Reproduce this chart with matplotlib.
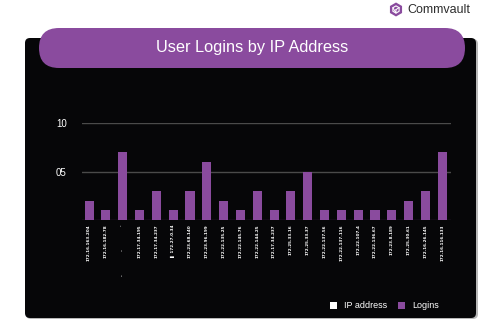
import matplotlib
matplotlib.use("Agg")
import matplotlib.pyplot as plt
from matplotlib.patches import FancyBboxPatch, Rectangle, RegularPolygon
import numpy as np

plt.rcParams['font.family'] = ['Liberation Sans', 'DejaVu Sans']

ip_labels = [
    "172.16.163.204", "172.16.182.78", "-" + " " * 17 + "-" + " " * 17 + "'",
    "172.17.34.195", "172.17.34.237", "\u258c 172.27.0.34", "172.23.68.140",
    "172.23.96.199", "172.22.135.25", "172.22.145.76", "172.22.144.25",
    "172.17.34.237", "172.25.33.16", "172.25.33.37", "172.22.137.56",
    "172.22.137.116", "172.22.107.4", "172.22.136.67", "172.23.8.189",
    "172.25.30.61", "172.16.26.145", "172.16.116.133",
]
logins = [2, 1, 7, 1, 3, 1, 3, 6, 2, 1, 3, 1, 3, 5, 1, 1, 1, 1, 1, 2, 3, 7]
y_ticks = [5, 10]
y_tick_labels = ["05", "10"]

PURPLE = "#8A4B9E"
PANEL = "#060608"
W, H = 500, 333

fig = plt.figure(figsize=(W / 100, H / 100), dpi=100)
fig.patch.set_facecolor("white")

# Decoration layer in pixel coordinates
bg = fig.add_axes([0, 0, 1, 1], zorder=0)
bg.set_xlim(0, W)
bg.set_ylim(H, 0)
bg.axis("off")

# shadow + dark panel
bg.add_patch(FancyBboxPatch((26, 39), 452, 280, boxstyle="round,pad=0,rounding_size=5",
                            facecolor="#b8b8b8", edgecolor="none"))
bg.add_patch(FancyBboxPatch((25, 38), 451, 280, boxstyle="round,pad=0,rounding_size=5",
                            facecolor=PANEL, edgecolor="none"))
# title pill
bg.add_patch(FancyBboxPatch((39, 28), 426, 40, boxstyle="round,pad=0,rounding_size=20",
                            facecolor=PURPLE, edgecolor="none"))
bg.text(252, 47.5, "User Logins by IP Address", color="white", fontsize=11.8,
        ha="center", va="center")

# logo: filled hexagon with a small cube outline
bg.add_patch(RegularPolygon((396, 9.5), 6, radius=7, orientation=0,
                            facecolor=PURPLE, edgecolor="none"))
bg.add_patch(RegularPolygon((396, 9.5), 6, radius=3.6, orientation=0,
                            facecolor="none", edgecolor="white", lw=0.8))
bg.plot([396, 396, 392.9], [9.5, 13.1, 7.7], color="white", lw=0.7)
bg.plot([396, 399.1], [9.5, 7.7], color="white", lw=0.7)
bg.text(407, 10, "Commvault", color="#2e2e2e", fontsize=9, ha="left", va="center")

# legend
bg.add_patch(Rectangle((330, 302), 7, 7, facecolor="white", edgecolor="none"))
bg.text(344, 305.5, "IP address", color="white", fontsize=6.5, ha="left", va="center")
bg.add_patch(Rectangle((398, 302), 7, 7, facecolor=PURPLE, edgecolor="none"))
bg.text(412, 305.5, "Logins", color="white", fontsize=6.5, ha="left", va="center")

# Bar chart
left, right = 82 / W, 451 / W
bottom, top = (H - 220) / H, (H - 123) / H
ax = fig.add_axes([left, bottom, right - left, top - bottom], zorder=2)
ax.patch.set_alpha(0)
x = np.arange(len(logins))
ax.bar(x, logins, width=0.54, color=PURPLE, zorder=3)
ax.set_xlim(-0.42, len(logins) - 0.48)
ax.set_ylim(0, 10)
ax.set_yticks(y_ticks)
ax.set_yticklabels(y_tick_labels, color="white", fontsize=7)
for t in y_ticks:
    ax.axhline(t, color="#4a4a4a", lw=1.0, zorder=1)
ax.axhline(0, color="#3a1f44", lw=1.0, zorder=2)
ax.tick_params(axis="y", length=0, pad=11)
ax.set_xticks(x)
ax.set_xticklabels(ip_labels, rotation=90, color="white", fontsize=3,
                   family=["DejaVu Sans"], fontweight="bold", va="top", ha="center")
ax.tick_params(axis="x", length=0, pad=3)
for s in ax.spines.values():
    s.set_visible(False)

fig.savefig("out.png", dpi=100, facecolor="white")
